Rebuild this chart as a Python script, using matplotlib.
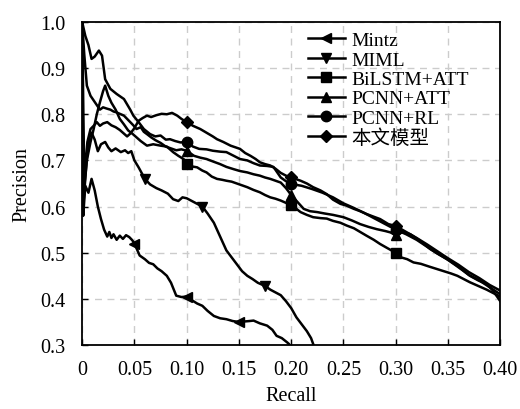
import matplotlib
matplotlib.use("Agg")
import matplotlib.pyplot as plt

plt.rcParams['font.family'] = ['Liberation Serif', 'Noto Sans CJK SC']
plt.rcParams['font.size'] = 14

# ---- data ----
mintz_r = [0, 0.001, 0.003, 0.006, 0.009, 0.012, 0.015, 0.018, 0.021, 0.024, 0.026, 0.028, 0.030,
           0.033, 0.036, 0.039, 0.042, 0.045, 0.048, 0.05, 0.055, 0.060, 0.064, 0.068, 0.072, 0.076,
           0.081, 0.085, 0.090, 0.095, 0.10, 0.105, 0.110, 0.115, 0.120, 0.126, 0.132, 0.138, 0.144,
           0.15, 0.155, 0.160, 0.164, 0.170, 0.177, 0.182, 0.186, 0.191, 0.196, 0.198, 0.201]
mintz_p = [1.0, 0.58, 0.645, 0.63, 0.66, 0.635, 0.60, 0.573, 0.55, 0.535, 0.545, 0.532, 0.54,
           0.528, 0.537, 0.53, 0.538, 0.534, 0.527, 0.52, 0.494, 0.486, 0.478, 0.475, 0.466, 0.46,
           0.45, 0.435, 0.407, 0.404, 0.405, 0.397, 0.39, 0.385, 0.374, 0.363, 0.358, 0.356, 0.352,
           0.35, 0.351, 0.352, 0.353, 0.347, 0.342, 0.333, 0.32, 0.315, 0.306, 0.302, 0.29]
mintz_marks = [0.05, 0.10, 0.15]

miml_r = [0, 0.001, 0.003, 0.005, 0.007, 0.009, 0.012, 0.015, 0.018, 0.022, 0.025, 0.028, 0.032,
          0.037, 0.041, 0.044, 0.047, 0.05, 0.054, 0.06, 0.065, 0.071, 0.076, 0.082, 0.087, 0.092,
          0.096, 0.10, 0.105, 0.11, 0.115, 0.12, 0.126, 0.132, 0.138, 0.143, 0.148, 0.153, 0.158,
          0.163, 0.168, 0.175, 0.18, 0.185, 0.19, 0.195, 0.2, 0.205, 0.21, 0.215, 0.219, 0.223]
miml_p = [1.0, 0.60, 0.66, 0.72, 0.75, 0.76, 0.745, 0.72, 0.735, 0.74, 0.728, 0.72, 0.726,
          0.718, 0.722, 0.716, 0.72, 0.70, 0.685, 0.66, 0.648, 0.64, 0.635, 0.628, 0.616, 0.612,
          0.62, 0.618, 0.612, 0.606, 0.60, 0.585, 0.565, 0.535, 0.505, 0.49, 0.475, 0.46, 0.45,
          0.443, 0.435, 0.428, 0.42, 0.414, 0.408, 0.395, 0.38, 0.36, 0.345, 0.33, 0.315, 0.29]
miml_marks = [0.06, 0.115, 0.175]

bilstm_r = [0, 0.001, 0.0045, 0.008, 0.011, 0.014, 0.017, 0.020, 0.022, 0.025, 0.028, 0.032, 0.036,
            0.040, 0.044, 0.048, 0.052, 0.056, 0.062, 0.068, 0.075, 0.081, 0.087, 0.092, 0.097, 0.10,
            0.105, 0.11, 0.115, 0.119, 0.124, 0.129, 0.134, 0.138, 0.143, 0.148, 0.153, 0.158, 0.164,
            0.17, 0.175, 0.18, 0.185, 0.19, 0.195, 0.20, 0.205, 0.209, 0.215, 0.221, 0.228, 0.234,
            0.24, 0.247, 0.253, 0.26, 0.266, 0.272, 0.279, 0.285, 0.292, 0.30, 0.305, 0.311, 0.317,
            0.324, 0.332, 0.339, 0.346, 0.353, 0.359, 0.365, 0.371, 0.379, 0.387, 0.393, 0.40]
bilstm_p = [1.0, 0.62, 0.70, 0.74, 0.768, 0.80, 0.826, 0.85, 0.862, 0.84, 0.825, 0.81, 0.79,
            0.778, 0.765, 0.758, 0.75, 0.742, 0.732, 0.735, 0.732, 0.73, 0.718, 0.71, 0.703, 0.692,
            0.687, 0.685, 0.678, 0.674, 0.665, 0.66, 0.658, 0.656, 0.654, 0.65, 0.646, 0.642, 0.636,
            0.631, 0.625, 0.62, 0.617, 0.613, 0.608, 0.603, 0.595, 0.588, 0.582, 0.577, 0.575, 0.574,
            0.569, 0.565, 0.559, 0.553, 0.545, 0.537, 0.528, 0.519, 0.51, 0.50, 0.49, 0.486, 0.479,
            0.476, 0.47, 0.465, 0.46, 0.455, 0.45, 0.443, 0.436, 0.428, 0.42, 0.413, 0.405]

pcnn_att_r = [0, 0.002, 0.0045, 0.008, 0.011, 0.014, 0.017, 0.020, 0.024, 0.027, 0.030, 0.033, 0.037,
              0.040, 0.043, 0.046, 0.049, 0.052, 0.056, 0.059, 0.062, 0.066, 0.070, 0.075, 0.080,
              0.085, 0.090, 0.095, 0.10, 0.107, 0.113, 0.119, 0.126, 0.132, 0.138, 0.145, 0.151,
              0.158, 0.164, 0.17, 0.175, 0.18, 0.185, 0.19, 0.195, 0.20, 0.206, 0.212, 0.218, 0.225,
              0.232, 0.24, 0.25, 0.258, 0.266, 0.274, 0.282, 0.29, 0.295, 0.30, 0.307, 0.314, 0.322,
              0.333, 0.341, 0.349, 0.356, 0.364, 0.371, 0.379, 0.387, 0.393, 0.40]
pcnn_att_p = [1.0, 0.93, 0.862, 0.84, 0.83, 0.82, 0.81, 0.815, 0.812, 0.81, 0.806, 0.804, 0.80,
              0.797, 0.79, 0.783, 0.776, 0.768, 0.772, 0.762, 0.757, 0.75, 0.744, 0.738, 0.73,
              0.726, 0.722, 0.724, 0.721, 0.71, 0.706, 0.703, 0.697, 0.692, 0.686, 0.681, 0.677,
              0.674, 0.67, 0.667, 0.663, 0.66, 0.656, 0.652, 0.64, 0.625, 0.61, 0.595, 0.59, 0.588,
              0.585, 0.582, 0.577, 0.57, 0.562, 0.556, 0.551, 0.547, 0.544, 0.538, 0.545, 0.54, 0.528,
              0.508, 0.497, 0.486, 0.475, 0.462, 0.45, 0.44, 0.432, 0.418, 0.395]

pcnn_rl_r = [0, 0.003, 0.006, 0.009, 0.012, 0.016, 0.019, 0.022, 0.027, 0.033, 0.040, 0.046, 0.049,
             0.054, 0.059, 0.065, 0.070, 0.075, 0.080, 0.084, 0.089, 0.094, 0.10, 0.106, 0.112,
             0.119, 0.125, 0.132, 0.138, 0.145, 0.151, 0.158, 0.164, 0.170, 0.177, 0.183, 0.19,
             0.195, 0.20, 0.21, 0.22, 0.23, 0.24, 0.25, 0.26, 0.27, 0.28, 0.29, 0.30, 0.31, 0.32,
             0.33, 0.34, 0.35, 0.36, 0.37, 0.38, 0.39, 0.40]
pcnn_rl_p = [1.0, 0.97, 0.95, 0.92, 0.925, 0.938, 0.927, 0.876, 0.855, 0.844, 0.833, 0.81, 0.797,
             0.783, 0.768, 0.757, 0.752, 0.754, 0.745, 0.746, 0.742, 0.739, 0.74, 0.73, 0.725,
             0.724, 0.721, 0.719, 0.718, 0.71, 0.703, 0.70, 0.694, 0.689, 0.688, 0.686, 0.663,
             0.655, 0.649, 0.645, 0.638, 0.63, 0.62, 0.607, 0.597, 0.586, 0.574, 0.562, 0.55, 0.54,
             0.528, 0.513, 0.498, 0.485, 0.47, 0.452, 0.44, 0.425, 0.41]

ours_r = [0, 0.002, 0.005, 0.008, 0.011, 0.014, 0.017, 0.020, 0.024, 0.028, 0.032, 0.036, 0.040,
          0.043, 0.046, 0.050, 0.054, 0.058, 0.062, 0.066, 0.071, 0.076, 0.081, 0.086, 0.091, 0.095,
          0.10, 0.106, 0.113, 0.119, 0.125, 0.129, 0.135, 0.142, 0.151, 0.156, 0.161, 0.166, 0.170,
          0.175, 0.180, 0.185, 0.19, 0.195, 0.20, 0.209, 0.215, 0.221, 0.228, 0.234, 0.24, 0.247,
          0.253, 0.26, 0.266, 0.272, 0.279, 0.285, 0.293, 0.30, 0.31, 0.32, 0.33, 0.34, 0.35, 0.36,
          0.37, 0.38, 0.39, 0.40]
ours_p = [1.0, 0.66, 0.74, 0.768, 0.775, 0.783, 0.775, 0.78, 0.783, 0.776, 0.772, 0.766, 0.758,
          0.752, 0.758, 0.77, 0.786, 0.792, 0.797, 0.794, 0.798, 0.801, 0.80, 0.803, 0.797, 0.79,
          0.783, 0.775, 0.768, 0.76, 0.752, 0.746, 0.74, 0.732, 0.725, 0.716, 0.71, 0.703, 0.696,
          0.692, 0.689, 0.682, 0.673, 0.667, 0.663, 0.656, 0.65, 0.642, 0.635, 0.627, 0.615, 0.606,
          0.602, 0.595, 0.59, 0.584, 0.578, 0.573, 0.562, 0.558, 0.545, 0.532, 0.518, 0.503, 0.488,
          0.474, 0.458, 0.445, 0.43, 0.418]
top_marks = [0.10, 0.20, 0.30]

series = [
    ("Mintz", mintz_r, mintz_p, mintz_marks, "<"),
    ("MIML", miml_r, miml_p, miml_marks, "v"),
    ("BiLSTM+ATT", bilstm_r, bilstm_p, top_marks, "s"),
    ("PCNN+ATT", pcnn_att_r, pcnn_att_p, top_marks, "^"),
    ("PCNN+RL", pcnn_rl_r, pcnn_rl_p, top_marks, "o"),
    ("本文模型", ours_r, ours_p, top_marks, "D"),
]

fig = plt.figure(figsize=(5.2, 4.1), dpi=100)
ax = fig.add_axes([0.158, 0.156, 0.804, 0.788])

for name, r, p, marks, m in series:
    idx = [r.index(x) for x in marks]
    ms = 6 if m == "D" else 7.5
    ax.plot(r, p, color="black", lw=1.8, marker=m, markersize=ms, markevery=idx, label=name)

ax.set_xlim(0, 0.40)
ax.set_ylim(0.3, 1.0)
ax.set_xticks([0, 0.05, 0.10, 0.15, 0.20, 0.25, 0.30, 0.35, 0.40])
ax.set_xticklabels(["0", "0.05", "0.10", "0.15", "0.20", "0.25", "0.30", "0.35", "0.40"])
ax.set_yticks([0.3, 0.4, 0.5, 0.6, 0.7, 0.8, 0.9, 1.0])
ax.set_yticklabels(["0.3", "0.4", "0.5", "0.6", "0.7", "0.8", "0.9", "1.0"])
ax.tick_params(direction="in", length=4, width=1, labelsize=14.5)
ax.tick_params(axis="x", pad=11)
ax.tick_params(axis="y", pad=12)
ax.grid(True, linestyle=(0, (5, 4)), color="#cccccc", lw=1)
ax.set_axisbelow(True)
for s in ax.spines.values():
    s.set_linewidth(1.3)

ax.set_xlabel("Recall", fontsize=14.5, labelpad=5)
ax.set_ylabel("Precision", fontsize=14.5, labelpad=6)

ax.legend(loc="upper left", bbox_to_anchor=(0.516, 1.0), frameon=False, fontsize=14,
          handlelength=1.9, handletextpad=0.35, labelspacing=0.09, borderaxespad=0.2,
          borderpad=0.3)

fig.savefig("out.png", dpi=100)
